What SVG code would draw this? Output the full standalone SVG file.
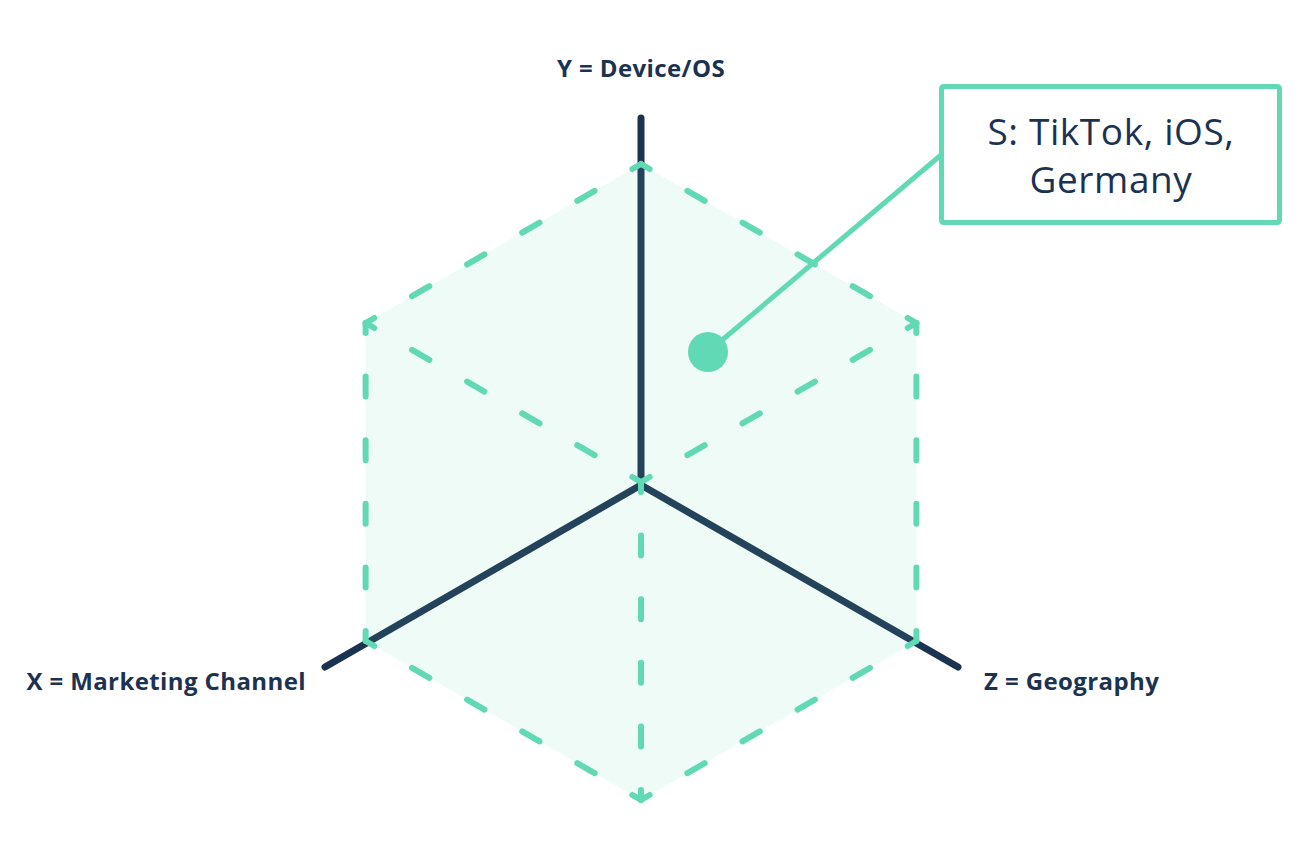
<svg xmlns="http://www.w3.org/2000/svg" width="1315" height="860" viewBox="0 0 1315 860">
<style>
.axis{stroke:#1b3350;stroke-width:7;stroke-linecap:round;fill:none}
.dash{stroke:#62d9b5;stroke-width:6;stroke-linecap:round;fill:none;stroke-dasharray:20 43.6;stroke-dashoffset:10}
.lbl{font-family:"Open Sans",Lato,sans-serif;font-weight:700;font-size:24px;letter-spacing:0.4px;fill:#1b3350}
.box{font-family:"Open Sans",Lato,sans-serif;font-size:37px;letter-spacing:0.6px;fill:#1b3350}
</style>
<rect width="1315" height="860" fill="#ffffff"/>
<g id="axes">
<line class="axis" x1="641" y1="118" x2="641" y2="485"/>
<line class="axis" x1="641" y1="485" x2="325" y2="667"/>
<line class="axis" x1="641" y1="485" x2="958" y2="667"/>
</g>
<g id="cube">
<polygon points="641,164 916.4,323 916.4,641 641,800 365.6,641 365.6,323" fill="#62d9b5" fill-opacity="0.1"/>
<g id="edges">
<line class="dash" x1="641" y1="164" x2="365.6" y2="323"/>
<line class="dash" x1="641" y1="164" x2="916.4" y2="323"/>
<line class="dash" x1="365.6" y1="323" x2="365.6" y2="641"/>
<line class="dash" x1="916.4" y1="323" x2="916.4" y2="641"/>
<line class="dash" x1="365.6" y1="641" x2="641" y2="800"/>
<line class="dash" x1="916.4" y1="641" x2="641" y2="800"/>
<line class="dash" x1="641" y1="482" x2="365.6" y2="323"/>
<line class="dash" x1="641" y1="482" x2="916.4" y2="323"/>
<line class="dash" x1="641" y1="482" x2="641" y2="800"/>
</g>
</g>
<g id="labels">
<text class="lbl" x="641" y="77" text-anchor="middle">Y = Device/OS</text>
<text class="lbl" x="306" y="690" text-anchor="end">X = Marketing Channel</text>
<text class="lbl" x="984" y="690">Z = Geography</text>
</g>
<g id="connectors">
<line x1="708" y1="352" x2="941" y2="155" stroke="#62d9b5" stroke-width="5"/>
</g>
<g id="point-S">
<circle cx="708" cy="352" r="20" fill="#62d9b5"/>
</g>
<g id="callout">
<rect x="941.5" y="86.5" width="338" height="136" rx="2" fill="#ffffff" stroke="#62d9b5" stroke-width="5"/>
<text class="box" x="1111" y="145" text-anchor="middle">S: TikTok, iOS,</text>
<text class="box" x="1111" y="193" text-anchor="middle">Germany</text>
</g>
</svg>
